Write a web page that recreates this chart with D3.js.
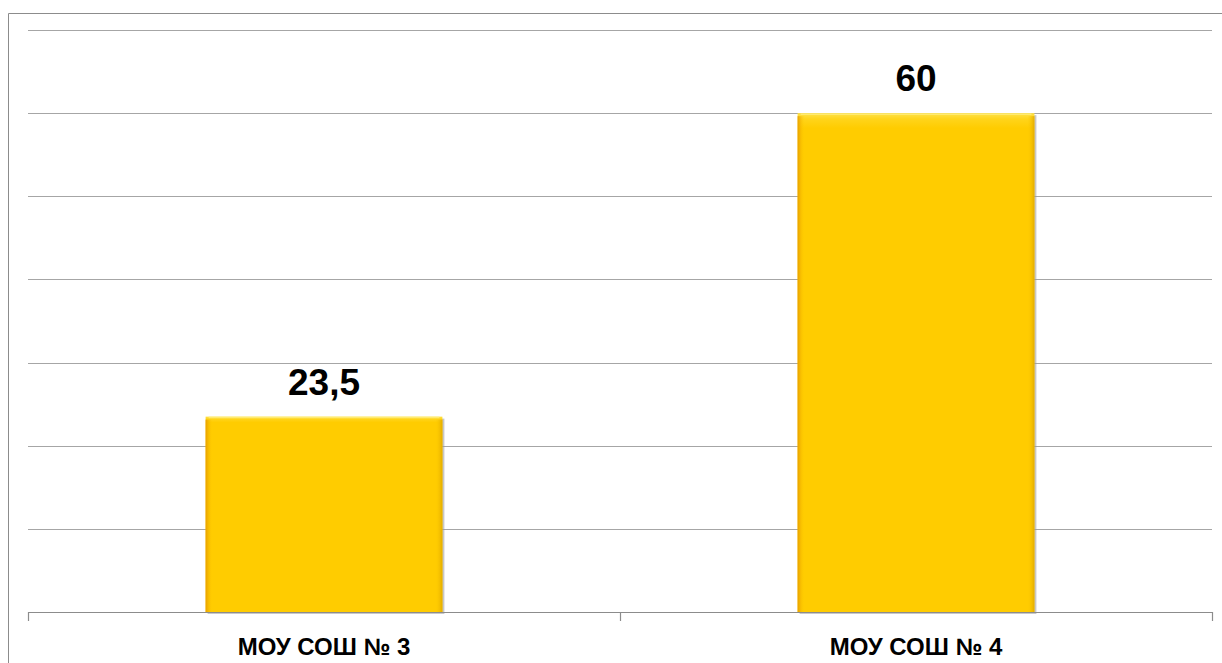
<!DOCTYPE html>
<html><head><meta charset="utf-8">
<script src="https://cdn.jsdelivr.net/npm/d3@7"></script>
<style>body{margin:0;background:#fff}svg{display:block}</style>
</head><body>
<svg id="c" width="1222" height="663"></svg>
<script>
const categories = ["МОУ СОШ № 3", "МОУ СОШ № 4"];
const values = [23.5, 60];
const valueLabels = ["23,5", "60"];
const yTicks = [0, 10, 20, 30, 40, 50, 60, 70];

const svg = d3.select("#c");
const pLeft = 28, pRight = 1212, pTop = 30, pBottom = 612;

const x = d3.scaleBand().domain(categories).range([pLeft, pRight]).paddingInner(0.6).paddingOuter(0.3);
const xb = d3.scaleBand().domain(categories).range([pLeft, pRight]).padding(0);
const y = d3.scaleLinear().domain([0, 70]).range([pBottom, pTop]);

const defs = svg.append("defs");
const gv = defs.append("linearGradient").attr("id","gv").attr("x1",0).attr("y1",0).attr("x2",0).attr("y2",1);
gv.append("stop").attr("offset",0).attr("stop-color","#FFE24A");
gv.append("stop").attr("offset",0.012).attr("stop-color","#FFD41A");
gv.append("stop").attr("offset",0.03).attr("stop-color","#FFCC00");
gv.append("stop").attr("offset",1).attr("stop-color","#FFCC00");
const gh = defs.append("linearGradient").attr("id","gh").attr("x1",0).attr("y1",0).attr("x2",1).attr("y2",0);
gh.append("stop").attr("offset",0).attr("stop-color","#E59A00").attr("stop-opacity",0.9);
gh.append("stop").attr("offset",0.03).attr("stop-color","#FFCC00").attr("stop-opacity",0);
gh.append("stop").attr("offset",0.97).attr("stop-color","#FFCC00").attr("stop-opacity",0);
gh.append("stop").attr("offset",1).attr("stop-color","#E0A800").attr("stop-opacity",0.9);

// outer border
svg.append("path").attr("d","M8.5,663 L8.5,13.5 L1222,13.5").attr("fill","none").attr("stroke","#8c8c8c").attr("stroke-width",1);

// gridlines
svg.append("g").selectAll("line").data(yTicks.filter(d=>d>0)).join("line")
  .attr("x1",pLeft).attr("x2",pRight)
  .attr("y1",d=>Math.round(y(d))+0.5).attr("y2",d=>Math.round(y(d))+0.5)
  .attr("stroke","#a6a6a6").attr("stroke-width",1.2);

// bars
const bars = svg.append("g");
bars.selectAll("rect.sh").data(values).join("rect").attr("class","sh")
  .attr("x",(d,i)=>x(categories[i])+2).attr("y",d=>y(d)+2)
  .attr("width",x.bandwidth()).attr("height",d=>pBottom-y(d))
  .attr("fill","#9a9a9a").attr("opacity",0.55);
bars.selectAll("rect.b").data(values).join("rect").attr("class","b")
  .attr("x",(d,i)=>x(categories[i])).attr("y",d=>y(d))
  .attr("width",x.bandwidth()).attr("height",d=>pBottom-y(d))
  .attr("fill","url(#gv)");
bars.selectAll("rect.e").data(values).join("rect").attr("class","e")
  .attr("x",(d,i)=>x(categories[i])).attr("y",d=>y(d)+3)
  .attr("width",x.bandwidth()).attr("height",d=>pBottom-y(d)-3)
  .attr("fill","url(#gh)");
bars.selectAll("line.t").data(values).join("line").attr("class","t")
  .attr("x1",(d,i)=>x(categories[i])+3).attr("x2",(d,i)=>x(categories[i])+x.bandwidth()-3)
  .attr("y1",d=>y(d)+1).attr("y2",d=>y(d)+1)
  .attr("stroke","#FFEB70").attr("stroke-width",1.5);

// x axis
const xa = svg.append("g");
xa.append("line").attr("x1",pLeft).attr("x2",pRight).attr("y1",pBottom+0.5).attr("y2",pBottom+0.5).attr("stroke","#8c8c8c").attr("stroke-width",1.2);
const tickXs = [pLeft].concat(categories.map(c=>xb(c)+xb.bandwidth()));
xa.selectAll("line.tk").data(tickXs).join("line").attr("class","tk")
  .attr("x1",d=>d+0.5).attr("x2",d=>d+0.5).attr("y1",pBottom).attr("y2",pBottom+9)
  .attr("stroke","#8c8c8c").attr("stroke-width",1.2);
xa.selectAll("text").data(categories).join("text")
  .attr("x",d=>x(d)+x.bandwidth()/2).attr("y",655)
  .attr("text-anchor","middle").attr("font-family","Liberation Sans, Arial, sans-serif")
  .attr("font-weight","bold").attr("font-size",24).attr("fill","#000").text(d=>d);

// value labels
svg.append("g").selectAll("text").data(values).join("text")
  .attr("x",(d,i)=>x(categories[i])+x.bandwidth()/2).attr("y",d=>y(d)-22)
  .attr("text-anchor","middle").attr("font-family","Liberation Sans, Arial, sans-serif")
  .attr("font-weight","bold").attr("font-size",37).attr("fill","#000")
  .text((d,i)=>valueLabels[i]);
</script>
</body></html>
